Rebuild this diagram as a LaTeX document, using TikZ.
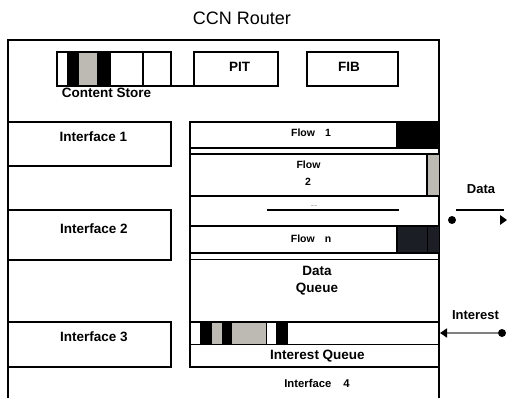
\documentclass[tikz,border=0pt]{standalone}
\usepackage{fontspec}
\setmainfont{Liberation Sans}
\usetikzlibrary{arrows.meta}
\definecolor{cellgray}{RGB}{189,186,179}
\definecolor{darkcell}{RGB}{27,30,37}
\begin{document}
\begin{tikzpicture}[x=1pt,y=-1pt,line width=1.2pt,line cap=rect,
  lbl/.style={anchor=base,inner sep=0pt,font=\fontsize{13.5}{16}\selectfont\bfseries},
  flowlbl/.style={anchor=base,inner sep=0pt,font=\fontsize{10.5}{13}\selectfont\bfseries},
  ttl/.style={anchor=base,inner sep=0pt,font=\fontsize{18}{20}\selectfont},
  dotnode/.style={circle,fill=black,inner sep=0pt,minimum size=8pt}]
\useasboundingbox (0,0) rectangle (507,398);
\fill[white] (0,0) rectangle (507,398);

% title
\node[ttl] (title) at (242,24.7) {CCN Router};

% outer router box
\draw (8,402) -- (8,40) -- (439,40) -- (439,402);

% content store
\fill[black] (67,52) rectangle (79,86);
\fill[cellgray] (79,52) rectangle (97,86);
\fill[black] (97,52) rectangle (111,86);
\draw (57,52) rectangle (171,86);
\draw (143,52) -- (143,86);
\draw (171,86) -- (192,86);
\node[lbl] (cslbl) at (106.5,97.5) {Content Store};

% PIT and FIB
\draw (194,52) rectangle (278,86);
\node[lbl] (pit) at (239.5,72) {PIT};
\draw (307,52) rectangle (398,86);
\node[lbl] (fib) at (349,72) {FIB};

% interfaces
\draw (8,122) rectangle (171,166);
\node[lbl] (if1) at (93.5,142) {Interface 1};
\draw (8,210) rectangle (171,260);
\node[lbl] (if2) at (94,234) {Interface 2};
\draw (8,322) rectangle (171,367);
\node[lbl] (if3) at (94,342) {Interface 3};

% right column
\fill[black] (397,122) rectangle (439,148);
\fill[cellgray] (427,154) rectangle (439,196);
\fill[darkcell] (397,226) rectangle (439,253);
\draw (190,367) -- (190,122) -- (439,122);
\draw (397,122) -- (397,148);
\draw (190,148) -- (439,148);
\draw (190,154) -- (439,154);
\draw (427,154) -- (427,196);
\draw (190,196) -- (439,196);
\draw (268,210) -- (398,210);
\draw (190,226) -- (439,226);
\draw (397,226) -- (397,253);
\draw[line width=0.8pt] (427,226) -- (427,253);
\draw (190,253) -- (439,253);
\draw (190,259.5) -- (439,259.5);
\node[flowlbl] (f1) at (311,137) {Flow\hspace{10pt}1};
\node[flowlbl] (f2a) at (308.5,169) {Flow};
\node[flowlbl] (f2b) at (308,186) {2};
\node[inner sep=0pt,font=\fontsize{5}{6}\selectfont] (dots) at (314,206) {.....};
\node[flowlbl] (fn) at (311,243) {Flow\hspace{10pt}n};

% data queue
\node[lbl] (dq1) at (317,276) {Data};
\node[lbl] (dq2) at (317,293) {Queue};

% interest queue
\fill[black] (200,322) rectangle (211.5,344.5);
\fill[cellgray] (211.5,322) rectangle (221.7,344.5);
\fill[black] (221.7,322) rectangle (231.7,344.5);
\fill[cellgray] (231.7,322) rectangle (266.5,344.5);
\fill[black] (276,322) rectangle (287.7,344.5);
\draw (190,322) -- (439,322);
\draw (266.8,322) -- (266.8,344.5);
\draw (190,344.5) -- (439,344.5);
\draw (190,367) -- (439,367);
\node[lbl] (iq) at (317.5,360) {Interest Queue};

% interface 4
\node[flowlbl,font=\fontsize{11.3}{14}\selectfont\bfseries] (if4) at (317,388) {Interface\hspace{12pt}4};

% Data link (right)
\node[lbl,font=\fontsize{13}{15}\selectfont\bfseries] (datalbl) at (481,194) {Data};
\coordinate (dl1) at (457,210);
\coordinate (dl2) at (503,210);
\draw (dl1) -- (dl2);
\node[dotnode] (ddot) at (452,220) {};
\fill (500,215) -- (507,220) -- (500,225) -- cycle;

% Interest link (right)
\node[lbl,font=\fontsize{13}{15}\selectfont\bfseries] (intlbl) at (475.5,320) {Interest};
\node[dotnode] (idot) at (502,333) {};
\coordinate (itip) at (440,333);
\draw[gray,line width=1.4pt,-{Triangle[length=7pt,width=9pt,color=black]}] (idot) -- (itip);
\end{tikzpicture}
\end{document}
